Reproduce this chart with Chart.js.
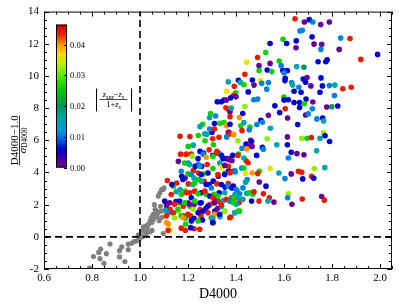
<!DOCTYPE html>
<html lang="en">

<head>
    <meta charset="UTF-8" />
    <title>D4000 vs S/N</title>
    <script src="https://cdn.jsdelivr.net/npm/chart.js"></script>
    <style>
        body { margin: 0; background: #fff; }
        #wrap { position: relative; width: 399px; height: 307px; }
    </style>
</head>

<body>
    <div id="wrap">
        <canvas id="d4000Chart" width="399" height="307"></canvas>
    </div>

    <script>
        // tick values
        const xTicks = [0.6, 0.8, 1.0, 1.2, 1.4, 1.6, 1.8, 2.0];
        const yTicks = [-2, 0, 2, 4, 6, 8, 10, 12, 14];
        const cbTicks = [0.00, 0.01, 0.02, 0.03, 0.04];
        const cbMax = 0.0465;

        // gray points (no redshift colour)
        const grayD4000 = [0.79, 0.806, 0.828, 0.836, 0.833, 0.85, 0.86, 0.875, 0.915, 0.915, 0.937, 0.924, 0.951, 0.951,
            0.965, 0.975, 0.986, 0.997, 1.01, 1.021, 1.025, 1.03, 0.993, 1.007, 1.014, 1.025, 1.035, 1.042, 1.05, 1.047,
            1.056, 1.063, 1.07, 1.075, 1.08, 1.097, 1.076, 1.09, 1.1, 1.06, 1.063, 1.05, 1.025, 1.01, 1.083, 1.07, 1.055,
            1.04, 1.085, 1.09, 1.096, 1.089];
        const graySnr = [-1.95, -1.23, -0.97, -0.76, -1.36, -1.65, -1.05, -0.45, -0.86, -1.25, -1.54, -0.62, -0.45, -0.8,
            -0.4, -0.29, -0.25, -0.1, 0.0, 0.41, 0.68, 0.6, 0.1, 0.37, 0.62, 0.5, 0.78, 0.99, 0.9, 1.2,
            1.1, 1.4, 1.25, 1.5, 1.0, 0.2, 2.53, 2.94, 3.05, 2.0, 1.7, 0.4, 0.15, 0.05, 2.74, 1.6, 1.4,
            0.3, 1.9, 1.2, 2.94, 1.6];

        // coloured points: D4000, (D4000-1)/sigma, |zspz-zs|/(1+zs)
        const d4000 = [
            1.646, 1.685, 1.705, 1.72, 1.753, 1.789, 1.676, 1.667, 1.717, 1.836, 1.875, 1.596, 1.651, 1.542, 1.611, 1.725,
            1.757, 1.65, 1.754, 1.83, 1.99, 1.524, 1.49, 1.92, 1.742, 1.774, 1.78, 1.58, 1.445, 1.542, 1.496, 1.588,
            1.653, 1.683, 1.496, 1.53, 1.549, 1.595, 1.614, 1.6, 1.437, 1.468, 1.503, 1.507, 1.475, 1.535, 1.604, 1.605,
            1.632, 1.636, 1.68, 1.696, 1.69, 1.754, 1.712, 1.76, 1.789, 1.812, 1.845, 1.88, 1.528, 1.451, 1.662, 1.642,
            1.671, 1.75, 1.81, 1.474, 1.49, 1.6, 1.6, 1.618, 1.642, 1.665, 1.692, 1.72, 1.685, 1.437, 1.562, 1.605,
            1.665, 1.778, 1.799, 1.824, 1.718, 1.582, 1.535, 1.615, 1.69, 1.701, 1.737, 1.761, 1.765, 1.504, 1.51, 1.487,
            1.657, 1.458, 1.543,
            1.614, 1.674, 1.696, 1.714, 1.75, 1.765, 1.771, 1.79, 1.614, 1.63, 1.654, 1.683, 1.736, 1.618, 1.726, 1.77,
            1.66, 1.674, 1.63, 1.604, 1.678, 1.715, 1.724, 1.618, 1.615, 1.676, 1.633, 1.757, 1.768,
            1.303, 1.329, 1.361, 1.368, 1.389, 1.408, 1.461, 1.465, 1.53, 1.57, 1.442, 1.458, 1.467, 1.425, 1.445, 1.51,
            1.514, 1.306, 1.32, 1.328, 1.336, 1.34, 1.303, 1.347, 1.361, 1.37, 1.386, 1.41, 1.424, 1.442, 1.45, 1.486,
            1.542, 1.579, 1.497, 1.49, 1.467, 1.44, 1.447, 1.44, 1.497, 1.525, 1.514, 1.539, 1.533, 1.558, 1.496, 1.465,
            1.445, 1.458, 1.47, 1.475, 1.389, 1.396, 1.405, 1.417, 1.428, 1.389, 1.382, 1.413, 1.396, 1.41, 1.378, 1.351,
            1.333, 1.312, 1.303, 1.303, 1.354, 1.368, 1.33, 1.32, 1.326, 1.347, 1.305, 1.308, 1.305, 1.32, 1.326, 1.354,
            1.37, 1.368, 1.396, 1.324, 1.34,
            1.208, 1.243, 1.278, 1.3, 1.271, 1.201, 1.222, 1.188, 1.213, 1.25, 1.265, 1.288, 1.16, 1.201, 1.243, 1.257,
            1.28, 1.222, 1.243, 1.262, 1.283, 1.174, 1.188, 1.225, 1.245, 1.267, 1.153, 1.201, 1.22, 1.288, 1.114, 1.139,
            1.167, 1.188, 1.208, 1.228, 1.254, 1.275, 1.107, 1.111, 1.125, 1.15, 1.165, 1.18, 1.2, 1.208, 1.225, 1.25,
            1.25, 1.275, 1.29, 1.118, 1.14, 1.16, 1.18, 1.19, 1.21, 1.225, 1.254, 1.11, 1.118, 1.125, 1.19, 1.225, 1.26,
            1.41, 1.418, 1.433, 1.368, 1.393, 1.361, 1.399, 1.39, 1.4, 1.378, 1.322, 1.339, 1.35, 1.36, 1.358, 1.37,
            1.375, 1.38, 1.428, 1.414, 1.375, 1.294, 1.315, 1.29, 1.31, 1.333, 1.35, 1.36, 1.375, 1.42, 1.433, 1.261,
            1.25, 1.27, 1.29, 1.31, 1.37, 1.375, 1.39, 1.425, 1.455, 1.167,
            1.169, 1.193, 1.217, 1.242, 1.263, 1.276, 1.304, 1.322, 1.346, 1.367, 1.383, 1.408, 1.433,
            1.186, 1.207, 1.23, 1.249, 1.304, 1.332, 1.339, 1.353, 1.388, 1.433,
            1.172, 1.2, 1.214, 1.255, 1.283, 1.325, 1.353, 1.374, 1.397,
            1.133, 1.179, 1.228, 1.255, 1.276, 1.297, 1.339, 1.367, 1.383, 1.401, 1.415, 1.429,
            1.13, 1.151, 1.172, 1.193, 1.214, 1.242, 1.27, 1.29, 1.304, 1.325, 1.353, 1.36, 1.388, 1.408, 1.425,
            1.103, 1.124, 1.144, 1.165, 1.186, 1.207, 1.228, 1.255, 1.283, 1.311, 1.339, 1.374, 1.401, 1.388,
            1.106, 1.138, 1.158, 1.172, 1.2, 1.221, 1.242, 1.263, 1.283, 1.311, 1.332, 1.353, 1.394, 1.415,
            1.144, 1.179, 1.214, 1.242, 1.297, 1.304, 1.374,
            1.117, 1.11, 1.172, 1.189, 1.211, 1.249
        ];
        const snr = [
            13.56, 13.35, 13.5, 13.35, 13.2, 13.35, 12.84, 12.8, 12.43, 12.36, 12.33, 12.28, 12.18, 12.02, 12.02, 11.98,
            11.96, 11.75, 11.65, 11.65, 11.34, 11.46, 11.15, 11.03, 10.88, 10.88, 11.0, 10.93, 10.85, 10.78, 10.64, 10.64,
            10.58, 10.54, 10.34, 10.37, 10.27, 10.33, 10.33, 10.2, 10.1, 9.75, 9.71, 9.55, 9.43, 9.59, 9.71, 9.85,
            9.59, 9.44, 9.81, 9.9, 9.61, 9.88, 9.38, 9.38, 9.4, 9.43, 9.2, 9.3, 9.18, 9.01, 9.3, 9.05,
            8.99, 8.99, 8.78, 8.52, 8.56, 8.69, 8.5, 8.52, 8.35, 8.35, 8.56, 8.38, 8.27, 8.1, 8.15, 7.96,
            8.04, 8.07, 8.09, 8.13, 7.96, 7.72, 7.55, 7.39, 7.57, 7.64, 7.33, 7.39, 7.2, 7.24, 7.12, 6.98,
            6.98, 6.83, 6.75,
            6.21, 6.13, 6.13, 6.17, 6.13, 6.46, 6.28, 5.93, 5.72, 5.25, 5.17, 5.1, 5.35, 4.9, 4.24, 4.3,
            4.07, 4.01, 3.91, 3.62, 3.6, 3.77, 3.64, 2.67, 2.43, 2.35, 2.02, 2.51, 2.28,
            6.09, 6.19, 6.21, 6.5, 6.38, 5.97, 6.0, 5.93, 6.09, 5.72, 5.76, 5.66, 5.62, 5.51, 5.47, 5.57,
            5.45, 5.72, 5.31, 5.2, 5.1, 5.05, 5.06, 4.9, 4.86, 4.8, 5.06, 5.14, 4.28, 4.73, 4.6, 5.06,
            4.24, 3.97, 4.07, 3.93, 3.97, 3.95, 3.56, 3.4, 3.41, 3.15, 2.67, 2.43, 2.22, 2.16, 2.22, 2.22,
            2.7, 2.74, 2.64, 2.8, 3.15, 2.64, 2.84, 2.33, 2.33, 2.22, 2.43, 2.12, 1.5, 1.6, 1.23, 1.6,
            1.25, 1.6, 1.15, 0.88, 3.09, 3.31, 2.74, 2.43, 2.22, 2.26, 2.1, 2.64, 3.46, 3.3, 3.77, 3.97,
            4.1, 4.38, 4.12, 1.77, 1.9,
            6.23, 6.3, 6.38, 6.5, 5.97, 5.62, 5.7, 5.1, 5.14, 5.31, 5.2, 5.41, 4.69, 4.59, 4.49, 4.38,
            4.5, 4.12, 3.97, 3.9, 3.97, 3.77, 3.66, 3.66, 3.56, 3.45, 3.35, 3.29, 3.25, 3.25, 3.5, 3.15,
            2.94, 2.84, 2.74, 2.84, 2.74, 2.64, 2.12, 1.91, 1.71, 2.2, 2.1, 1.9, 2.1, 1.9, 2.0, 2.1,
            1.7, 1.77, 2.0, 1.5, 1.5, 1.6, 1.3, 1.15, 1.3, 1.15, 1.3, 1.3, 0.78, 0.4, 0.8, 0.5, 1.05,
            9.73, 9.6, 9.46, 9.63, 9.36, 9.05, 8.95, 8.8, 8.7, 8.64, 8.4, 8.4, 8.5, 8.5, 8.02, 7.9,
            7.78, 8.0, 7.67, 7.41, 7.47, 7.67, 7.51, 7.4, 7.04, 7.06, 7.1, 6.9, 7.0, 6.9, 7.1, 6.99,
            6.85, 6.4, 6.7, 6.7, 6.5, 6.4, 6.35, 6.6, 6.65, 6.25,
            5.14, 5.14, 5.0, 4.86, 5.14, 4.94, 5.0, 5.2, 4.86, 4.86, 4.73, 5.06, 4.9,
            4.59, 4.49, 4.38, 4.38, 4.24, 4.59, 4.32, 4.44, 4.07, 4.28,
            4.07, 3.91, 3.87, 3.87, 3.97, 3.87, 3.87, 3.97, 4.03,
            3.25, 3.56, 3.35, 3.46, 3.25, 3.04, 3.25, 3.15, 3.04, 2.94, 2.67, 3.04,
            2.63, 2.8, 2.63, 2.74, 2.43, 2.67, 2.84, 2.53, 2.43, 2.53, 2.74, 2.33, 2.43, 2.43, 2.33,
            2.22, 2.12, 2.02, 2.22, 2.12, 2.02, 2.22, 2.12, 1.91, 2.12, 1.98, 2.22, 2.02, 2.12,
            1.65, 1.5, 1.71, 1.3, 1.4, 1.71, 1.5, 1.6, 1.5, 1.4, 1.4, 1.6, 1.5, 1.6,
            1.19, 1.19, 0.99, 0.99, 1.19, 0.88, 1.19,
            0.41, 0.88, 0.54, 0.41, 0.57, 0.47
        ];
        const dz = [
            0.044, 0.001, 0.006, 0.011, 0.001, 0.001, 0.011, 0.011, 0.006, 0.011, 0.044, 0.026, 0.006, 0.006, 0.006, 0.001,
            0.001, 0.001, 0.011, 0.001, 0.006, 0.026, 0.044, 0.044, 0.006, 0.006, 0.006, 0.026, 0.036, 0.001, 0.001, 0.011,
            0.016, 0.020, 0.026, 0.006, 0.026, 0.006, 0.006, 0.011, 0.044, 0.006, 0.036, 0.011, 0.001, 0.011, 0.006, 0.006,
            0.011, 0.016, 0.006, 0.001, 0.006, 0.006, 0.001, 0.006, 0.011, 0.016, 0.044, 0.044, 0.011, 0.006, 0.011, 0.006,
            0.006, 0.006, 0.011, 0.011, 0.011, 0.026, 0.006, 0.006, 0.006, 0.006, 0.006, 0.001, 0.026, 0.032, 0.006, 0.044,
            0.006, 0.001, 0.020, 0.006, 0.011, 0.006, 0.001, 0.001, 0.001, 0.011, 0.011, 0.006, 0.016, 0.006, 0.011, 0.011,
            0.006, 0.026, 0.016,
            0.001, 0.032, 0.026, 0.044, 0.016, 0.032, 0.006, 0.006, 0.006, 0.006, 0.001, 0.001, 0.016, 0.011, 0.032, 0.016,
            0.044, 0.044, 0.001, 0.011, 0.006, 0.044, 0.006, 0.032, 0.011, 0.044, 0.001, 0.001, 0.044,
            0.044, 0.044, 0.011, 0.044, 0.040, 0.032, 0.001, 0.006, 0.032, 0.016, 0.006, 0.001, 0.001, 0.011, 0.040, 0.006,
            0.011, 0.026, 0.044, 0.016, 0.016, 0.006, 0.006, 0.001, 0.001, 0.001, 0.006, 0.026, 0.011, 0.044, 0.044, 0.006,
            0.036, 0.016, 0.026, 0.044, 0.040, 0.036, 0.011, 0.016, 0.001, 0.006, 0.044, 0.044, 0.016, 0.001, 0.044, 0.006,
            0.016, 0.026, 0.026, 0.044, 0.006, 0.016, 0.016, 0.026, 0.044, 0.044, 0.044, 0.044, 0.016, 0.026, 0.044, 0.032,
            0.016, 0.006, 0.011, 0.006, 0.006, 0.044, 0.006, 0.006, 0.044, 0.016, 0.044, 0.026, 0.006, 0.044, 0.001, 0.026,
            0.006, 0.044, 0.016, 0.001, 0.016,
            0.044, 0.026, 0.016, 0.006, 0.026, 0.026, 0.016, 0.040, 0.044, 0.006, 0.006, 0.044, 0.001, 0.011, 0.011, 0.006,
            0.044, 0.044, 0.044, 0.026, 0.040, 0.006, 0.001, 0.016, 0.026, 0.044, 0.044, 0.044, 0.016, 0.006, 0.044, 0.026,
            0.016, 0.026, 0.044, 0.044, 0.006, 0.026, 0.026, 0.001, 0.044, 0.006, 0.026, 0.044, 0.006, 0.026, 0.001, 0.006,
            0.044, 0.006, 0.044, 0.011, 0.026, 0.032, 0.044, 0.026, 0.044, 0.006, 0.044, 0.044, 0.040, 0.036, 0.026, 0.044, 0.006,
            0.006, 0.016, 0.026, 0.016, 0.044, 0.036, 0.026, 0.044, 0.001, 0.006, 0.006, 0.006, 0.006, 0.001, 0.044, 0.044,
            0.001, 0.016, 0.006, 0.040, 0.044, 0.026, 0.011, 0.016, 0.006, 0.026, 0.026, 0.040, 0.006, 0.026, 0.016, 0.026,
            0.016, 0.016, 0.011, 0.044, 0.001, 0.044, 0.040, 0.044, 0.011, 0.044,
            0.044, 0.044, 0.032, 0.006, 0.011, 0.040, 0.026, 0.044, 0.006, 0.001, 0.001, 0.044, 0.016,
            0.026, 0.016, 0.006, 0.016, 0.026, 0.016, 0.036, 0.001, 0.044, 0.026,
            0.011, 0.026, 0.011, 0.006, 0.006, 0.044, 0.006, 0.044, 0.011,
            0.006, 0.006, 0.026, 0.016, 0.006, 0.011, 0.006, 0.011, 0.006, 0.011, 0.011, 0.011,
            0.044, 0.016, 0.026, 0.044, 0.006, 0.026, 0.044, 0.006, 0.044, 0.026, 0.016, 0.044, 0.026, 0.016, 0.016,
            0.006, 0.001, 0.044, 0.006, 0.026, 0.001, 0.026, 0.006, 0.006, 0.001, 0.044, 0.011, 0.016, 0.026,
            0.016, 0.044, 0.026, 0.026, 0.044, 0.032, 0.006, 0.006, 0.044, 0.040, 0.006, 0.032, 0.016, 0.026,
            0.032, 0.040, 0.006, 0.026, 0.016, 0.006, 0.044,
            0.044, 0.040, 0.044, 0.044, 0.006, 0.044
        ];

        const serif = "'Liberation Serif', 'DejaVu Serif', serif";

        // colour map, purple -> blue -> teal -> green -> yellow -> red
        const cmap = [
            [0.000, [120, 0, 140]],
            [0.003, [60, 0, 175]],
            [0.006, [0, 0, 210]],
            [0.009, [0, 90, 230]],
            [0.012, [0, 150, 220]],
            [0.016, [0, 165, 170]],
            [0.020, [0, 150, 90]],
            [0.025, [0, 200, 0]],
            [0.030, [80, 240, 0]],
            [0.034, [200, 240, 0]],
            [0.037, [250, 220, 0]],
            [0.040, [255, 150, 0]],
            [0.043, [240, 40, 0]],
            [0.0465, [210, 0, 0]]
        ];

        function colorFor(v) {
            if (v <= cmap[0][0]) return 'rgb(' + cmap[0][1].join(',') + ')';
            for (let i = 1; i < cmap.length; i++) {
                if (v <= cmap[i][0]) {
                    const a = cmap[i - 1], b = cmap[i];
                    const t = (v - a[0]) / (b[0] - a[0]);
                    const c = a[1].map((ch, k) => Math.round(ch + (b[1][k] - ch) * t));
                    return 'rgb(' + c.join(',') + ')';
                }
            }
            return 'rgb(' + cmap[cmap.length - 1][1].join(',') + ')';
        }

        // draws pieces of text one after another, centred on cx
        function drawRuns(ctx, runs, cx, baseline) {
            let total = 0;
            runs.forEach(r => { ctx.font = r.font; r.w = ctx.measureText(r.text).width; total += r.w; });
            let x = cx - total / 2;
            ctx.textAlign = 'left';
            ctx.textBaseline = 'alphabetic';
            runs.forEach(r => {
                ctx.font = r.font;
                ctx.fillText(r.text, x, baseline + (r.dy || 0));
                x += r.w;
            });
            return total;
        }

        const decor = {
            id: 'decor',
            afterDatasetsDraw(chart) {
                const ctx = chart.ctx;
                const area = chart.chartArea;
                const xs = chart.scales.x, ys = chart.scales.y;
                ctx.save();
                ctx.strokeStyle = '#000';
                ctx.fillStyle = '#000';

                // dashed reference lines
                ctx.lineWidth = 1.6;
                ctx.setLineDash([7, 4]);
                const x1 = xs.getPixelForValue(1.0), y0 = ys.getPixelForValue(0);
                ctx.beginPath();
                ctx.moveTo(x1, area.bottom); ctx.lineTo(x1, area.top);
                ctx.moveTo(area.left, y0); ctx.lineTo(area.right, y0);
                ctx.stroke();
                ctx.setLineDash([]);

                // frame
                ctx.lineWidth = 1;
                ctx.strokeRect(area.left + 0.5, area.top + 0.5, area.right - area.left - 1, area.bottom - area.top - 1);

                // inward ticks on all four sides
                ctx.beginPath();
                for (let v = 0.6; v <= 2.05 + 1e-9; v += 0.05) {
                    const px = Math.round(xs.getPixelForValue(v)) + 0.5;
                    const major = xTicks.some(t => Math.abs(t - v) < 1e-6);
                    const len = major ? 5 : 3;
                    ctx.moveTo(px, area.bottom); ctx.lineTo(px, area.bottom - len);
                    ctx.moveTo(px, area.top); ctx.lineTo(px, area.top + len);
                }
                for (let v = -2; v <= 14 + 1e-9; v += 0.5) {
                    const py = Math.round(ys.getPixelForValue(v)) + 0.5;
                    const major = yTicks.some(t => Math.abs(t - v) < 1e-6);
                    const len = major ? 5 : 3;
                    ctx.moveTo(area.left, py); ctx.lineTo(area.left + len, py);
                    ctx.moveTo(area.right, py); ctx.lineTo(area.right - len, py);
                }
                ctx.stroke();

                // colour bar
                const cbL = area.left + 12, cbT = area.top + 13, cbW = 11, cbH = 143;
                const grad = ctx.createLinearGradient(0, cbT + cbH, 0, cbT);
                cmap.forEach(s => grad.addColorStop(Math.min(1, s[0] / cbMax), 'rgb(' + s[1].join(',') + ')'));
                ctx.fillStyle = grad;
                ctx.fillRect(cbL, cbT, cbW, cbH);
                ctx.strokeStyle = '#000';
                ctx.strokeRect(cbL + 0.5, cbT + 0.5, cbW - 1, cbH - 1);
                ctx.fillStyle = '#000';
                ctx.font = '8.5px ' + serif;
                ctx.textAlign = 'left';
                ctx.textBaseline = 'middle';
                ctx.beginPath();
                cbTicks.forEach(t => {
                    const py = Math.round(cbT + cbH - t / cbMax * cbH) + 0.5;
                    ctx.moveTo(cbL + cbW - 3, py); ctx.lineTo(cbL + cbW, py);
                    ctx.fillText(t.toFixed(2), cbL + cbW + 3, py);
                });
                ctx.stroke();

                // colour bar label |zspz - zs| / (1+zs)
                const lx = 113.5, ly = 99.5;
                drawRuns(ctx, [
                    { text: 'z', font: 'italic 8.5px ' + serif },
                    { text: 'spz', font: 'italic 6px ' + serif, dy: 1.5 },
                    { text: '\u2212', font: '8.5px ' + serif },
                    { text: 'z', font: 'italic 8.5px ' + serif },
                    { text: 's', font: 'italic 6px ' + serif, dy: 1.5 }
                ], lx, ly - 2.5);
                drawRuns(ctx, [
                    { text: '1+', font: '8.5px ' + serif },
                    { text: 'z', font: 'italic 8.5px ' + serif },
                    { text: 's', font: 'italic 6px ' + serif, dy: 1.5 }
                ], lx, ly + 7.5);
                ctx.beginPath();
                ctx.lineWidth = 0.7;
                ctx.moveTo(lx - 14, ly); ctx.lineTo(lx + 14, ly);
                ctx.stroke();
                ctx.beginPath();
                ctx.lineWidth = 1;
                ctx.moveTo(96.5, ly - 11); ctx.lineTo(96.5, ly + 12);
                ctx.moveTo(131.5, ly - 11); ctx.lineTo(131.5, ly + 12);
                ctx.stroke();

                // y axis title as a fraction
                const midY = (area.top + area.bottom) / 2;
                ctx.translate(19, midY);
                ctx.rotate(-Math.PI / 2);
                const w = drawRuns(ctx, [{ text: 'D4000\u22121.0', font: '11px ' + serif }], 0, -1.5);
                drawRuns(ctx, [
                    { text: '\u03c3', font: 'italic 11px ' + serif },
                    { text: 'D4000', font: '7.5px ' + serif, dy: 1.5 }
                ], 0, 6.5);
                ctx.beginPath();
                ctx.lineWidth = 0.8;
                ctx.moveTo(-w / 2, 0.5); ctx.lineTo(w / 2, 0.5);
                ctx.stroke();
                ctx.restore();
            }
        };

        const grayPts = grayD4000.map((x, i) => ({ x: x, y: graySnr[i] }));
        const colPts = d4000.map((x, i) => ({ x: x, y: snr[i] }));

        const config = {
            type: 'scatter',
            data: {
                datasets: [{
                    data: grayPts,
                    backgroundColor: '#808080',
                    borderWidth: 0,
                    pointRadius: 2.6
                }, {
                    data: colPts,
                    backgroundColor: dz.map(colorFor),
                    borderWidth: 0,
                    pointRadius: 2.8
                }]
            },
            options: {
                responsive: false,
                animation: false,
                devicePixelRatio: 1,
                layout: { padding: { top: 10, right: 7, left: 0, bottom: 0 } },
                plugins: {
                    legend: { display: false },
                    tooltip: { enabled: false }
                },
                scales: {
                    x: {
                        type: 'linear',
                        min: 0.6,
                        max: 2.05,
                        grid: { display: false, drawTicks: false },
                        border: { display: false },
                        afterBuildTicks: s => { s.ticks = xTicks.map(v => ({ value: v })); },
                        afterFit: s => { s.height = 38; },
                        ticks: {
                            color: '#000',
                            padding: 3,
                            font: { family: serif, size: 11 },
                            callback: v => v.toFixed(1)
                        },
                        title: {
                            display: true,
                            text: 'D4000',
                            color: '#000',
                            font: { family: serif, size: 14 },
                            padding: { top: 0, bottom: 4 }
                        }
                    },
                    y: {
                        min: -2,
                        max: 14,
                        grid: { display: false, drawTicks: false },
                        border: { display: false },
                        afterBuildTicks: s => { s.ticks = yTicks.map(v => ({ value: v })); },
                        afterFit: s => { s.width = 44; },
                        ticks: {
                            color: '#000',
                            padding: 5,
                            font: { family: serif, size: 11 }
                        }
                    }
                }
            },
            plugins: [decor]
        };

        new Chart(document.getElementById('d4000Chart'), config);
    </script>
</body>

</html>
